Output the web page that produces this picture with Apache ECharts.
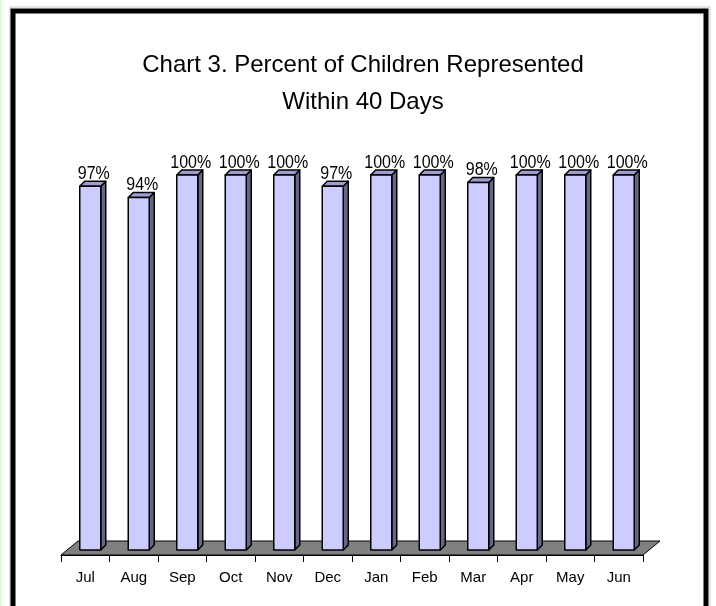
<!DOCTYPE html>
<html>
<head>
<meta charset="utf-8">
<title>Chart 3</title>
<script src="https://cdn.jsdelivr.net/npm/echarts@6/dist/echarts.min.js"></script>
<style>
  html, body { margin: 0; padding: 0; background: #fff; }
  #chart { width: 716px; height: 606px; }
</style>
</head>
<body>
<div id="chart"></div>
<script>
// data
const months = ['Jul', 'Aug', 'Sep', 'Oct', 'Nov', 'Dec', 'Jan', 'Feb', 'Mar', 'Apr', 'May', 'Jun'];
const percentRepresented = [97, 94, 100, 100, 100, 97, 100, 100, 98, 100, 100, 100];

const FONT = 'Liberation Sans, Arial, sans-serif';
const D = 5;        // bar depth offset
const HALF = 10.5;  // half width of front face

const myChart = echarts.init(document.getElementById('chart'));

function renderBar(params, api) {
  const i = api.value(0);
  const v = api.value(1);
  const top = api.coord([i, v]);
  const base = api.coord([i, 0]);
  const cx = top[0] + D;
  const x0 = cx - HALF, x1 = cx + HALF;
  const yt = top[1] - D, yb = base[1] - D;
  const edge = { stroke: '#000', lineWidth: 1.5, lineJoin: 'round' };
  return {
    type: 'group',
    children: [
      { type: 'polygon', shape: { points: [[x1, yt], [x1 + D, yt - D], [x1 + D, yb - D], [x1, yb]] },
        style: Object.assign({ fill: '#666688' }, edge) },
      { type: 'polygon', shape: { points: [[x0, yt], [x1, yt], [x1 + D, yt - D], [x0 + D, yt - D]] },
        style: Object.assign({ fill: '#9d9dd0' }, edge) },
      { type: 'rect', shape: { x: x0, y: yt, width: x1 - x0, height: yb - yt },
        style: Object.assign({ fill: '#ccccff' }, edge) },
      // label text looks stretched upward in the original, so scale it a little
      { type: 'text', x: cx + D / 2 + 1, y: yt - D + 2, scaleY: 1.2,
        style: { text: v + '%', fill: '#000', font: '16px ' + FONT, align: 'center', verticalAlign: 'bottom' } }
    ]
  };
}

function renderFloor(params, api) {
  const cs = params.coordSys;
  const y = cs.y + cs.height;
  const dx = 17, dy = 14;
  return {
    type: 'polygon',
    z2: -1,
    shape: { points: [[cs.x, y], [cs.x + cs.width, y], [cs.x + cs.width + dx, y - dy], [cs.x + dx, y - dy]] },
    style: { fill: '#808080', stroke: '#000', lineWidth: 1 }
  };
}

const option = {
  backgroundColor: '#fff',
  animation: false,
  title: {
    text: 'Chart 3. Percent of Children Represented\nWithin 40 Days',
    left: 358,
    top: 42,
    textAlign: 'center',
    textStyle: { fontFamily: FONT, fontSize: 24, fontWeight: 'normal', color: '#000', lineHeight: 37 }
  },
  grid: { left: 61, right: 73, top: 180, bottom: 51 },
  xAxis: {
    type: 'category',
    data: months,
    axisLine: { show: true, lineStyle: { color: '#000', width: 1 } },
    axisTick: { show: true, length: 7, lineStyle: { color: '#000' } },
    axisLabel: { color: '#000', fontFamily: FONT, fontSize: 15, margin: 15 },
    splitLine: { show: false }
  },
  yAxis: { type: 'value', min: 0, max: 100, show: false },
  graphic: [
    { type: 'rect', shape: { x: 0, y: 0, width: 2, height: 606 }, style: { fill: '#d4ffd4' } },
    { type: 'rect', shape: { x: 10, y: 7, width: 700, height: 640 }, style: { fill: 'none', stroke: '#c8c8c8', lineWidth: 1 } },
    { type: 'rect', shape: { x: 13, y: 11, width: 693, height: 640 }, style: { fill: 'none', stroke: '#000', lineWidth: 5 } }
  ],
  series: [
    { type: 'custom', name: 'floor', renderItem: renderFloor, data: [[0, 0]], z: 1, silent: true },
    { type: 'custom', name: 'Percent', renderItem: renderBar, data: months.map((m, i) => [i, percentRepresented[i]]), z: 2 }
  ]
};

myChart.setOption(option);
</script>
</body>
</html>
